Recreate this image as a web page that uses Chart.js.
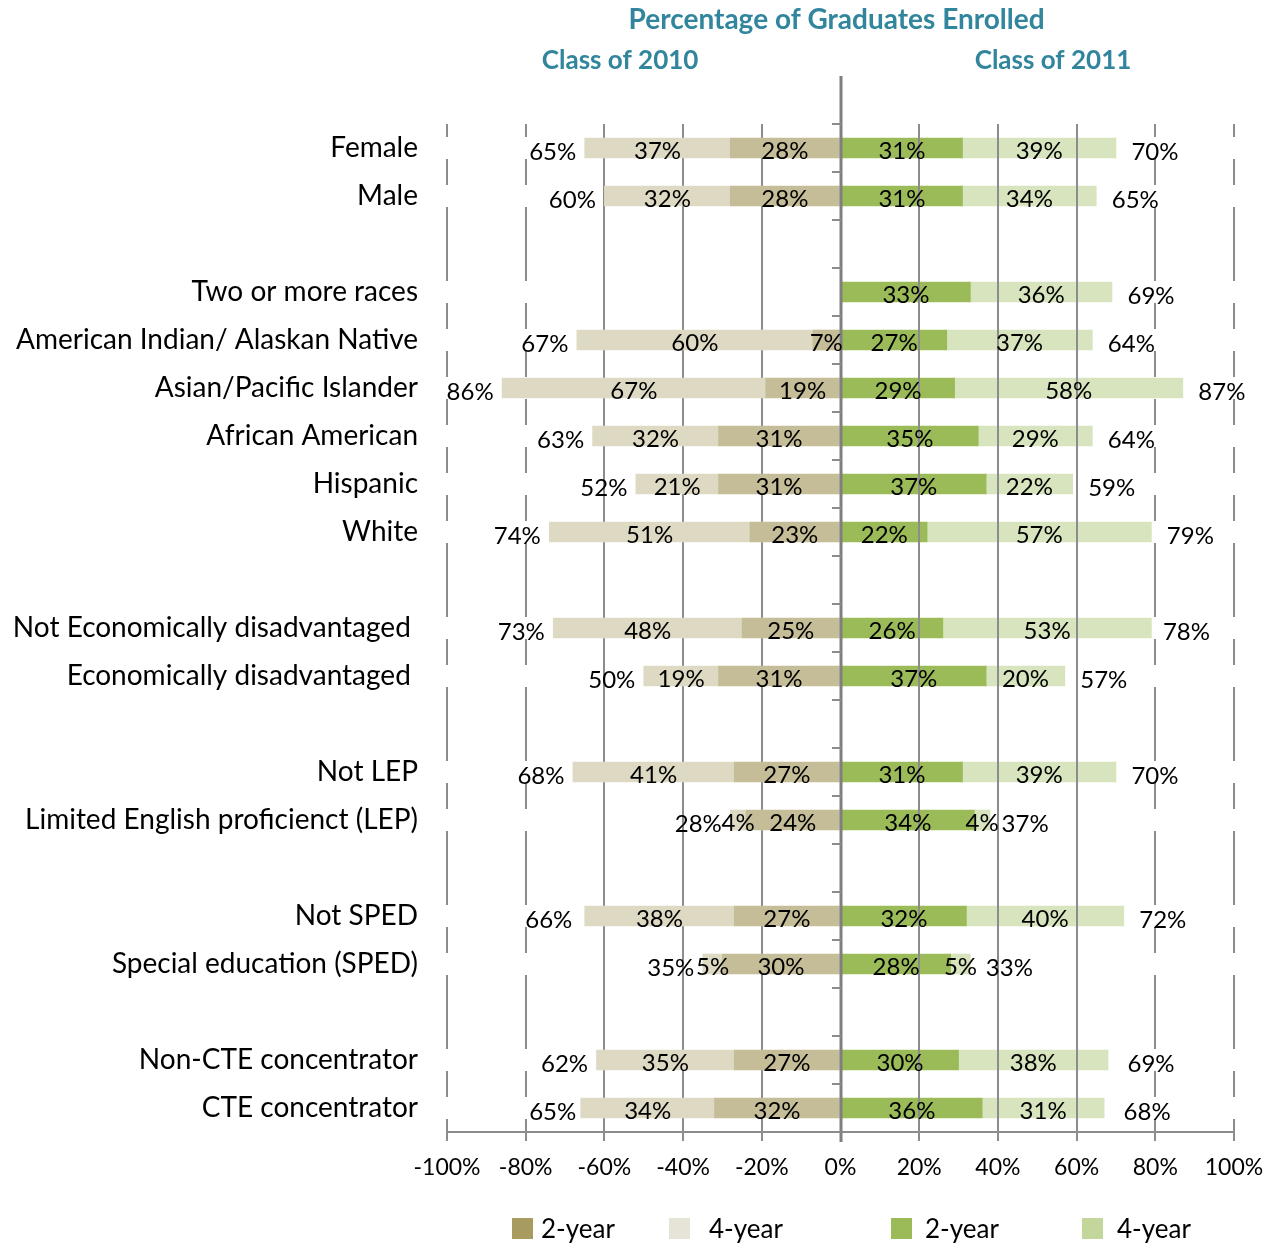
<!DOCTYPE html>
<html>
<head>
<meta charset="utf-8">
<script src="https://cdn.jsdelivr.net/npm/chart.js@4/dist/chart.umd.min.js"></script>
<style>
  html, body { margin: 0; padding: 0; background: #ffffff; }
  canvas { display: block; }
</style>
</head>
<body>
<canvas id="enrolled" width="1273" height="1245"></canvas>
<script>
// Row labels; empty strings leave a blank row between groups
const categories = [
  'Female', 'Male', '',
  'Two or more races', 'American Indian/ Alaskan Native', 'Asian/Pacific Islander',
  'African American', 'Hispanic', 'White', '',
  'Not Economically disadvantaged ', 'Economically disadvantaged ', '',
  'Not LEP', 'Limited English proficienct (LEP)', '',
  'Not SPED', 'Special education (SPED)', '',
  'Non-CTE concentrator', 'CTE concentrator'
];

// Class of 2010 (drawn to the left of zero)
const class2010TwoYear  = [28, 28, null, null,  7, 19, 31, 31, 23, null, 25, 31, null, 27, 24, null, 27, 30, null, 27, 32];
const class2010FourYear = [37, 32, null, null, 60, 67, 32, 21, 51, null, 48, 19, null, 41,  4, null, 38,  5, null, 35, 34];
const class2010Total    = [65, 60, null, null, 67, 86, 63, 52, 74, null, 73, 50, null, 68, 28, null, 66, 35, null, 62, 65];

// Class of 2011 (drawn to the right of zero)
const class2011TwoYear  = [31, 31, null, 33, 27, 29, 35, 37, 22, null, 26, 37, null, 31, 34, null, 32, 28, null, 30, 36];
const class2011FourYear = [39, 34, null, 36, 37, 58, 29, 22, 57, null, 53, 20, null, 39,  4, null, 40,  5, null, 38, 31];
const class2011Total    = [70, 65, null, 69, 64, 87, 64, 59, 79, null, 78, 57, null, 70, 37, null, 72, 33, null, 69, 68];

// Axis ticks
const axisTicks = [-100, -80, -60, -40, -20, 0, 20, 40, 60, 80, 100];

const FONT = 'Lato, "Open Sans", sans-serif';
const TEAL = '#31859C';
const GRID = '#8c8c8c';

const toLeft = arr => arr.map(v => (v == null ? null : -v));

// Vertical grid lines; the outer ones break at each bar row
function drawGridLines(chart, side) {
  const { ctx, chartArea, scales: { x, y } } = chart;
  const n = categories.length;
  ctx.save();
  ctx.strokeStyle = GRID;
  ctx.lineWidth = 2;
  axisTicks.forEach(v => {
    if (v === 0) return;
    if (side < 0 && v > 0) return;
    if (side > 0 && v < 0) return;
    const px = Math.round(x.getPixelForValue(v));
    const broken = Math.abs(v) >= 80;
    const segs = [];
    if (!broken) {
      segs.push([chartArea.top, chartArea.bottom]);
    } else {
      let start = chartArea.top;
      for (let i = 0; i < n; i++) {
        if (!categories[i]) continue;
        const yc = y.getPixelForValue(i);
        segs.push([start, yc - 11]);
        start = yc + 11;
      }
      segs.push([start, chartArea.bottom]);
    }
    ctx.beginPath();
    segs.forEach(([a, b]) => {
      if (b > a) { ctx.moveTo(px, a); ctx.lineTo(px, b); }
    });
    ctx.stroke();
  });
  ctx.restore();
}

const gridPlugin = {
  id: 'divergingGrid',
  beforeDatasetsDraw(chart) {
    drawGridLines(chart, -1);
  },
  afterDatasetsDraw(chart) {
    const { ctx, chartArea, scales: { x, y } } = chart;
    drawGridLines(chart, 1);

    // Zero line with its category tick marks
    const x0 = Math.round(x.getPixelForValue(0));
    const n = categories.length;
    const band = (chartArea.bottom - chartArea.top) / n;
    ctx.save();
    ctx.strokeStyle = '#7f7f7f';
    ctx.lineWidth = 3;
    ctx.beginPath();
    ctx.moveTo(x0, chartArea.top - band);
    ctx.lineTo(x0, chartArea.bottom + 10);
    ctx.stroke();
    ctx.lineWidth = 2;
    ctx.strokeStyle = GRID;
    ctx.beginPath();
    for (let i = 0; i <= n; i++) {
      const yb = Math.round(chartArea.top + i * band);
      ctx.moveTo(x0 - 9, yb);
      ctx.lineTo(x0, yb);
    }
    ctx.stroke();

    // Segment labels
    ctx.fillStyle = '#000000';
    ctx.font = '24px ' + FONT;
    ctx.textAlign = 'center';
    ctx.textBaseline = 'middle';
    chart.data.datasets.forEach((ds, d) => {
      const meta = chart.getDatasetMeta(d);
      meta.data.forEach((el, i) => {
        const v = ds.data[i];
        if (v == null) return;
        ctx.fillText(Math.abs(v) + '%', (el.x + el.base) / 2, el.y + 3);
      });
    });

    // Totals beyond the end of each stack
    categories.forEach((c, i) => {
      const yc = y.getPixelForValue(i) + 4;
      if (class2010Total[i] != null) {
        ctx.fillText(class2010Total[i] + '%', x.getPixelForValue(-class2010Total[i]) - 32, yc);
      }
      if (class2011Total[i] != null) {
        ctx.fillText(class2011Total[i] + '%', x.getPixelForValue(class2011Total[i]) + 39, yc);
      }
    });
    ctx.restore();
  }
};

// Heading and the two class headings
const headingPlugin = {
  id: 'headings',
  afterDraw(chart) {
    const { ctx, scales: { x } } = chart;
    ctx.save();
    ctx.fillStyle = TEAL;
    ctx.textAlign = 'center';
    ctx.textBaseline = 'middle';
    ctx.font = 'bold 28px ' + FONT;
    ctx.fillText('Percentage of Graduates Enrolled', x.getPixelForValue(-1), 20);
    ctx.font = 'bold 26px ' + FONT;
    ctx.fillText('Class of 2010', x.getPixelForValue(-56), 61);
    ctx.fillText('Class of 2011', x.getPixelForValue(54), 61);
    ctx.restore();
  }
};

// Legend row under the axis
const legendItems = [
  { text: '2-year', color: '#A79B5F', box: 512, label: 541 },
  { text: '4-year', color: '#E6E3D7', box: 669, label: 709 },
  { text: '2-year', color: '#9BBB59', box: 891, label: 925 },
  { text: '4-year', color: '#C3D69B', box: 1082, label: 1117 }
];
const legendPlugin = {
  id: 'bottomLegend',
  afterDraw(chart) {
    const { ctx } = chart;
    const yc = 1229;
    ctx.save();
    ctx.font = '26px ' + FONT;
    ctx.textAlign = 'left';
    ctx.textBaseline = 'middle';
    legendItems.forEach(it => {
      ctx.fillStyle = it.color;
      ctx.fillRect(it.box, yc - 11, 21, 21);
      ctx.fillStyle = '#000000';
      ctx.fillText(it.text, it.label, yc + 1);
    });
    ctx.restore();
  }
};

new Chart(document.getElementById('enrolled'), {
  type: 'bar',
  data: {
    labels: categories,
    datasets: [
      { label: '2-year', data: toLeft(class2010TwoYear),  backgroundColor: '#C4BD97', stack: 'all' },
      { label: '4-year', data: toLeft(class2010FourYear), backgroundColor: '#DDD9C3', stack: 'all' },
      { label: '2-year', data: class2011TwoYear,          backgroundColor: '#9BBB59', stack: 'all' },
      { label: '4-year', data: class2011FourYear,         backgroundColor: '#D7E4BD', stack: 'all' }
    ]
  },
  options: {
    indexAxis: 'y',
    responsive: false,
    animation: false,
    devicePixelRatio: 1,
    layout: { padding: { top: 124, right: 39, bottom: 0, left: 0 } },
    datasets: { bar: { barThickness: 20, borderWidth: 0 } },
    plugins: {
      legend: { display: false },
      tooltip: { enabled: false },
      title: { display: false }
    },
    scales: {
      x: {
        type: 'linear',
        stacked: true,
        min: -100,
        max: 100,
        afterBuildTicks(scale) {
          scale.ticks = axisTicks.map(v => ({ value: v }));
        },
        afterFit(scale) {
          scale.height = 113;
          scale.paddingLeft = 0;
          scale.paddingRight = 0;
        },
        ticks: {
          callback: v => v + '%',
          color: '#000000',
          font: { family: FONT, size: 23 },
          padding: 13,
          maxRotation: 0
        },
        grid: {
          drawOnChartArea: false,
          drawTicks: true,
          tickLength: 9,
          color: GRID,
          lineWidth: 2
        },
        border: { display: true, color: GRID, width: 2 }
      },
      y: {
        stacked: true,
        afterFit(scale) { scale.width = 447; },
        ticks: {
          autoSkip: false,
          color: '#000000',
          font: { family: FONT, size: 28 },
          padding: 29
        },
        grid: { display: false, drawTicks: false },
        border: { display: false }
      }
    }
  },
  plugins: [gridPlugin, headingPlugin, legendPlugin]
});
</script>
</body>
</html>
